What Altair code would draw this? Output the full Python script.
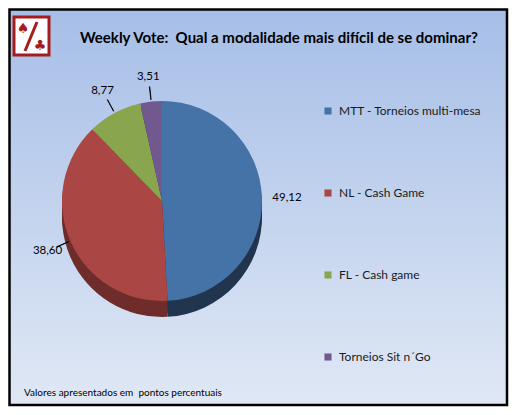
import altair as alt
import pandas as pd

# ---- data ----
categories = ["MTT - Torneios multi-mesa", "NL - Cash Game", "FL - Cash game", "Torneios Sit n\u00b4Go"]
values = [49.12, 38.60, 8.77, 3.51]
order_idx = [0, 1, 2, 3]
title_text = "Weekly Vote:\u00a0 Qual a modalidade mais dif\u00edcil de se dominar?"
footnote_text = "Valores apresentados em\u00a0 pontos percentuais"

top_colors = ["#4572A7", "#AA4643", "#89A54E", "#71588F"]
side_colors = ["#22354f", "#6e2c2a", "#57692f", "#47385c"]

W, H = 501, 399
CX, CY, R, DEPTH = 154, 193, 100, 16
FONT = "Lato"
LOGO = "#a51c1c"

df = pd.DataFrame({"k": categories, "v": values, "i": order_idx})
one = pd.DataFrame({"a": [0]})

# background with gradient + border
bg = alt.Chart(one).mark_rect(
    fill=alt.Gradient(
        gradient="linear", x1=0, y1=0, x2=0, y2=1,
        stops=[alt.GradientStop(offset=0, color="#a6bee7"),
               alt.GradientStop(offset=1, color="#e0e8f5")]),
    stroke="black", strokeWidth=2.5,
).encode(x=alt.value(1.5), x2=alt.value(W - 2), y=alt.value(1.5), y2=alt.value(H - 2))

# logo
logo_box = alt.Chart(one).mark_rect(fill="white", stroke=LOGO, strokeWidth=3).encode(
    x=alt.value(6), x2=alt.value(41), y=alt.value(9), y2=alt.value(47))
logo_slash = alt.Chart(one).mark_rule(stroke=LOGO, strokeWidth=3).encode(
    x=alt.value(29), y=alt.value(14), x2=alt.value(17), y2=alt.value(43))
logo_spade = alt.Chart(one).mark_text(text="\u2660", font="DejaVu Sans", fontSize=14, color=LOGO).encode(
    x=alt.value(15), y=alt.value(21))
logo_club = alt.Chart(one).mark_text(text="\u2663", font="DejaVu Sans", fontSize=14, color=LOGO).encode(
    x=alt.value(32), y=alt.value(38))

title = alt.Chart(one).mark_text(text=title_text, font=FONT, fontSize=15, fontWeight="bold",
                                 align="left", baseline="middle", color="black").encode(
    x=alt.value(72), y=alt.value(30))
foot = alt.Chart(one).mark_text(text=footnote_text, font=FONT, fontSize=10,
                                align="left", baseline="middle", color="black").encode(
    x=alt.value(16), y=alt.value(385))

base = alt.Chart(df)

# 3D side (several stacked copies, darker colours)
sides = []
for off in [DEPTH, 12, 8, 4]:
    sides.append(base.mark_arc(radius=R, stroke=None).encode(
        theta=alt.Theta("v:Q", stack=True),
        order=alt.Order("i:Q"),
        color=alt.Color("k:N", scale=alt.Scale(domain=categories, range=side_colors), legend=None),
        x=alt.value(CX), y=alt.value(CY + off)))

top = base.mark_arc(radius=R, stroke=None).encode(
    theta=alt.Theta("v:Q", stack=True),
    order=alt.Order("i:Q"),
    color=alt.Color("k:N", scale=alt.Scale(domain=categories, range=top_colors),
                    legend=alt.Legend(title=None, orient="none", legendX=314, legendY=97,
                                      symbolType="square", symbolSize=50, symbolStrokeWidth=0,
                                      labelFont=FONT, labelFontSize=12, labelColor="#1a1a1a",
                                      labelLimit=300, rowPadding=70, labelOffset=5)),
    x=alt.value(CX), y=alt.value(CY))

mid_base = base.transform_joinaggregate(total="sum(v)").transform_window(
    cum="sum(v)", sort=[alt.SortField("i")]).transform_calculate(
    mid="(datum.cum - datum.v/2)/datum.total*2*PI",
    mid2="(datum.cum - datum.v/2)/datum.total*2*PI + 0.004",
    lab="replace(format(datum.v, '.2f'), '.', ',')")

leaders = mid_base.transform_filter("datum.i > 0").mark_arc(
    radius=R + 15, radius2=R + 2, fill="black", stroke="black", strokeWidth=0.7).encode(
    theta=alt.Theta("mid:Q", scale=None), theta2="mid2:Q",
    x=alt.value(CX), y=alt.value(CY))

labels = mid_base.mark_text(radius=R + 25, font=FONT, fontSize=11.5, color="black").encode(
    theta=alt.Theta("mid:Q", scale=None),
    text="lab:N",
    x=alt.value(CX), y=alt.value(CY))

chart = alt.layer(bg, logo_box, logo_slash, logo_spade, logo_club, title, foot,
                  *sides, top, leaders, labels).resolve_scale(
    color="independent", theta="independent").properties(
    width=W, height=H, padding=0).configure_view(stroke=None)

chart.save("out.html", embed_options={"renderer": "svg", "actions": False})
